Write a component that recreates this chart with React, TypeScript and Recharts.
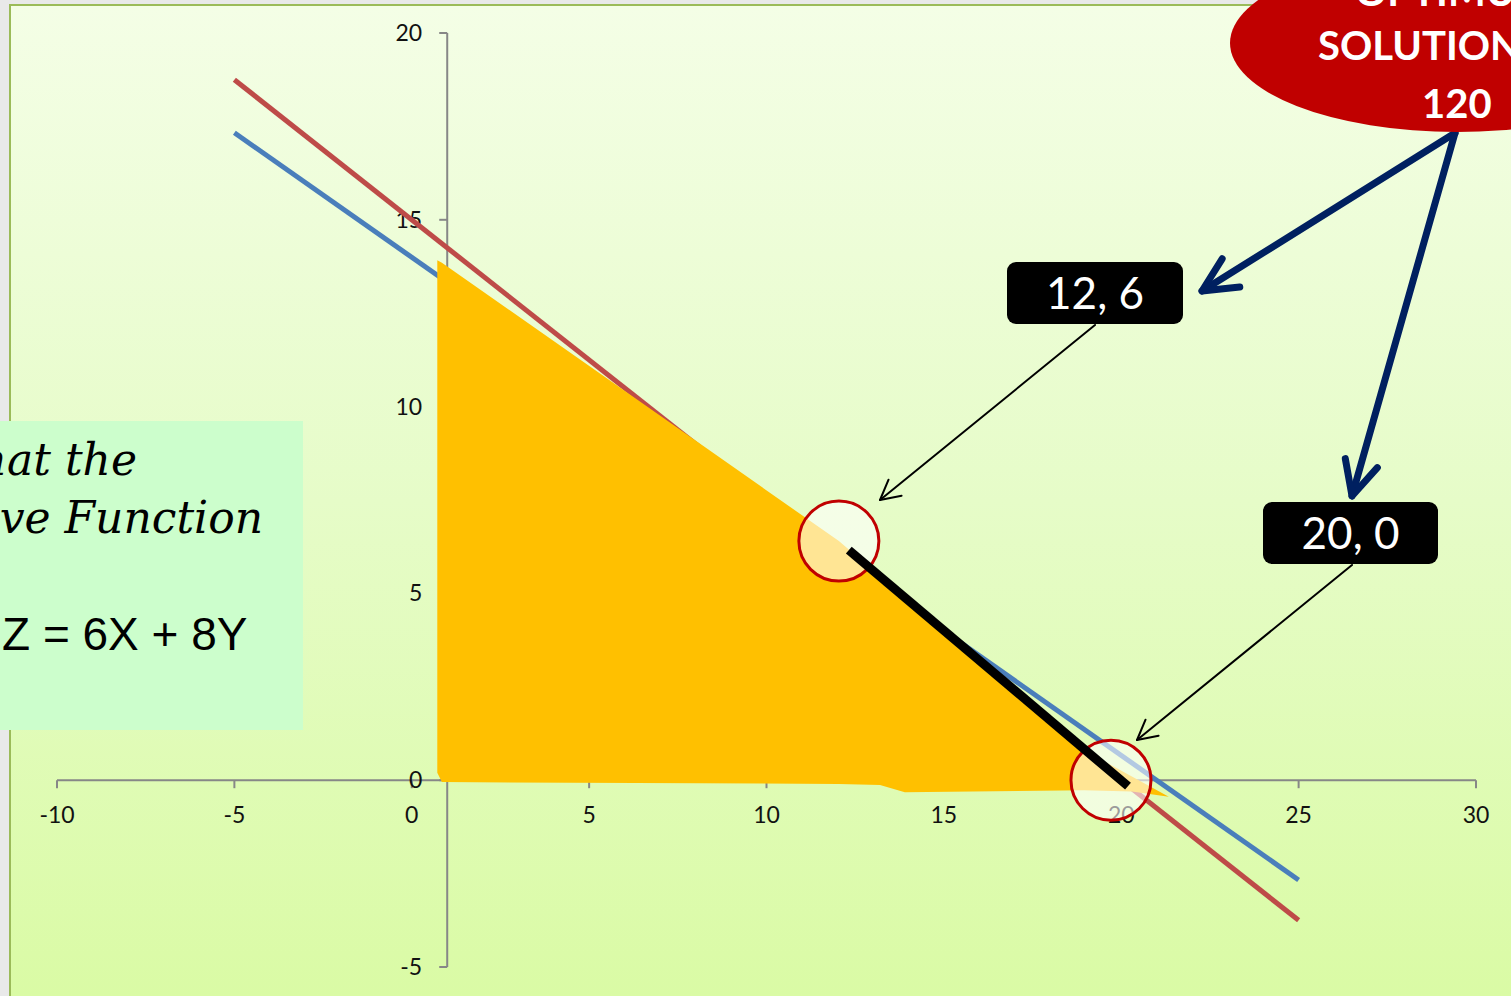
import React from 'react'
import { ComposedChart, XAxis, YAxis, Line, Area, Scatter } from 'recharts'

// axis ticks
const X_TICKS = [-10, -5, 0, 5, 10, 15, 20, 25, 30]
const Y_TICKS = [20, 15, 10, 5, 0, -5]
const Y_AXIS_AT = 1

// constraint lines
const CONSTRAINT_X = [-5, 25]
const BLUE_Y = [17.33, -2.67]
const RED_Y = [18.75, -3.75]

// feasible region (hand drawn shape)
const YELLOW_X = [0.72, 0.85, 12.04, 13.2, 13.9, 18.95, 20.3, 21.34]
const YELLOW_HIGH = [13.92, 13.85, 6.4, 5.46, 4.89, 0.8, 0.1, -0.44]
const YELLOW_LOW = [0.2, -0.05, -0.1, -0.13, -0.32, -0.27, -0.3, -0.44]

// optimal edge and corner points
const OPTIMAL_X = [12.32, 20.19]
const OPTIMAL_Y = [6.16, -0.16]
const CORNER_X = [12.04, 19.71]
const CORNER_Y = [6.4, 0]
const CORNER_LABELS = ['12, 6', '20, 0']

const W = 1511
const H = 996
const FONT = 'Lato, "Open Sans", sans-serif'

const toPoints = (xs: number[], ys: number[]) => xs.map((x, i) => ({ x, y: ys[i] }))

const xAxisLine = [
  { x: X_TICKS[0], y: 0 },
  { x: X_TICKS[X_TICKS.length - 1], y: 0 },
]
const yAxisLine = [
  { x: Y_AXIS_AT, y: Math.min(...Y_TICKS) },
  { x: Y_AXIS_AT, y: Math.max(...Y_TICKS) },
]
const xTickData = X_TICKS.map((x) => ({ x, y: 0 }))
const yTickData = Y_TICKS.map((y) => ({ x: Y_AXIS_AT, y }))
const blueData = toPoints(CONSTRAINT_X, BLUE_Y)
const redData = toPoints(CONSTRAINT_X, RED_Y)
const yellowData = YELLOW_X.map((x, i) => ({ x, range: [YELLOW_LOW[i], YELLOW_HIGH[i]] }))
const optimalData = toPoints(OPTIMAL_X, OPTIMAL_Y)
const cornerData = CORNER_X.map((x, i) => ({ x, y: CORNER_Y[i], label: CORNER_LABELS[i] }))

const XTick = (p: any) => (
  <g>
    <line x1={p.cx} y1={p.cy} x2={p.cx} y2={p.cy + 8} stroke="#878787" strokeWidth={2} />
    <text x={p.cx} y={p.cy + 43} textAnchor="middle" fontSize={23} fontFamily={FONT} fill="#111">
      {p.payload.x}
    </text>
  </g>
)

const YTick = (p: any) => (
  <g>
    <line x1={p.cx - 8} y1={p.cy} x2={p.cx} y2={p.cy} stroke="#878787" strokeWidth={2} />
    <text x={p.cx - 25} y={p.cy + 8} textAnchor="end" fontSize={23} fontFamily={FONT} fill="#111">
      {p.payload.y}
    </text>
  </g>
)

const CornerCircle = (p: any) => (
  <circle cx={p.cx} cy={p.cy} r={40} fill="#ffffff" fillOpacity={0.58} stroke="#c00000" strokeWidth={3} />
)

function Arrow({ x1, y1, x2, y2, color, width, head, spread }: any) {
  const a = Math.atan2(y1 - y2, x1 - x2)
  const s = (spread * Math.PI) / 180
  const p1 = `${x2 + head * Math.cos(a + s)},${y2 + head * Math.sin(a + s)}`
  const p2 = `${x2 + head * Math.cos(a - s)},${y2 + head * Math.sin(a - s)}`
  return (
    <g stroke={color} strokeWidth={width} fill="none" strokeLinecap="round" strokeLinejoin="round">
      <line x1={x1} y1={y1} x2={x2} y2={y2} />
      <polyline points={`${p1} ${x2},${y2} ${p2}`} />
    </g>
  )
}

function LabelBox({ x, y, w, h, text }: any) {
  return (
    <g>
      <rect x={x} y={y} width={w} height={h} rx={9} fill="#000" />
      <text x={x + w / 2} y={y + h / 2 + 16} textAnchor="middle" fontSize={44} fontFamily={FONT} fill="#fff">
        {text}
      </text>
    </g>
  )
}

export default function App() {
  return (
    <div style={{ position: 'absolute', left: 0, top: 0, width: W, height: H, overflow: 'hidden', background: '#e9e9e9' }}>
      <div
        style={{
          position: 'absolute',
          left: 9,
          top: 4,
          right: 0,
          bottom: 0,
          borderLeft: '2px solid #9bbb59',
          borderTop: '2px solid #9bbb59',
          background: 'linear-gradient(180deg, #f4fee6 0%, #e6fcc8 50%, #dafba5 100%)',
        }}
      />
      <div style={{ position: 'absolute', left: 0, top: 0 }}>
        <ComposedChart width={W} height={H} margin={{ top: 33, right: 35, bottom: 29, left: 57 }}>
          <XAxis type="number" dataKey="x" domain={[-10, 30]} hide />
          <YAxis type="number" dataKey="y" domain={[-5, 20]} hide />

          <Line data={xAxisLine} dataKey="y" stroke="#878787" strokeWidth={2} dot={false} activeDot={false} isAnimationActive={false} zIndex={100} />
          <Line data={yAxisLine} dataKey="y" stroke="#878787" strokeWidth={2} dot={false} activeDot={false} isAnimationActive={false} zIndex={101} />
          <Scatter data={xTickData} dataKey="y" shape={XTick} isAnimationActive={false} zIndex={102} />
          <Scatter data={yTickData} dataKey="y" shape={YTick} isAnimationActive={false} zIndex={103} />

          <Line data={blueData} dataKey="y" stroke="#4a7ebb" strokeWidth={5} dot={false} activeDot={false} isAnimationActive={false} zIndex={104} />
          <Line data={redData} dataKey="y" stroke="#be4b48" strokeWidth={5} dot={false} activeDot={false} isAnimationActive={false} zIndex={105} />

          <Area data={yellowData} dataKey="range" type="linear" fill="#ffc000" fillOpacity={1} stroke="none" dot={false} activeDot={false} isAnimationActive={false} zIndex={106} />

          <Scatter data={cornerData} dataKey="y" shape={CornerCircle} isAnimationActive={false} zIndex={107} />
          <Line data={optimalData} dataKey="y" stroke="#000" strokeWidth={9} dot={false} activeDot={false} isAnimationActive={false} zIndex={108} />
        </ComposedChart>
      </div>

      <svg width={W} height={H} style={{ position: 'absolute', left: 0, top: 0, pointerEvents: 'none' }}>
        {/* note box on the left */}
        <rect x={0} y={421} width={303} height={309} fill="#ccfecc" />
        <g fontFamily='"DejaVu Serif", serif' fontStyle="italic" fontSize={44} fill="#000">
          <text x={137} y={475} textAnchor="end">that the</text>
          <text x={263} y={533} textAnchor="end">Objective Function</text>
        </g>
        <text x={2} y={650} fontFamily='"Liberation Sans", Arial, sans-serif' fontSize={46} fill="#000">
          Z = 6X + 8Y
        </text>

        {/* thin pointers to corner points */}
        <Arrow x1={1095} y1={325} x2={880} y2={500} color="#000" width={2} head={22} spread={28} />
        <Arrow x1={1352} y1={565} x2={1137} y2={740} color="#000" width={2} head={22} spread={28} />

        <LabelBox x={1007} y={262} w={176} h={62} text={CORNER_LABELS[0]} />
        <LabelBox x={1263} y={502} w={175} h={62} text={CORNER_LABELS[1]} />

        {/* optimum callout */}
        <Arrow x1={1455} y1={133} x2={1202} y2={291} color="#002060" width={7} head={38} spread={26} />
        <Arrow x1={1455} y1={133} x2={1352} y2={496} color="#002060" width={7} head={38} spread={26} />
        <ellipse cx={1457} cy={43} rx={227} ry={89} fill="#c00000" />
        <g fontFamily={FONT} fontWeight="bold" fontSize={40} fill="#fff">
          <text x={1355} y={6}>OPTIMUM</text>
          <text x={1318} y={60}>SOLUTION</text>
          <text x={1422} y={118}>120</text>
        </g>
      </svg>
    </div>
  )
}
